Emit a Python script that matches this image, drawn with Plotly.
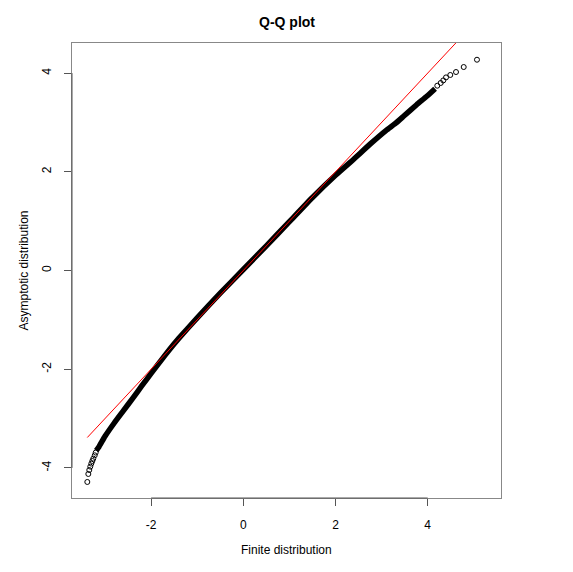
import plotly.graph_objects as go

# Sparse lower-tail points (Finite, Asymptotic)
tail_lo_x = [-3.384, -3.362, -3.341, -3.319, -3.297, -3.275, -3.254, -3.223, -3.202]
tail_lo_y = [-4.285, -4.123, -4.043, -3.974, -3.913, -3.860, -3.812, -3.745, -3.690]

# Dense central band of quantiles
band_x = [-3.19, -3.13, -3.00, -2.80, -2.60, -2.40, -2.20, -2.00, -1.80, -1.60,
          -1.40, -1.00, -0.50, 0.00, 0.50, 1.00, 1.50, 2.00, 2.40, 2.75,
          3.10, 3.30, 3.47, 3.76, 3.98, 4.16]
band_y = [-3.65, -3.57, -3.36, -3.09, -2.84, -2.59, -2.335, -2.085, -1.84, -1.60,
          -1.375, -0.96, -0.46, 0.02, 0.50, 0.99, 1.48, 1.93, 2.26, 2.56,
          2.84, 2.98, 3.12, 3.36, 3.53, 3.685]

# Sparse upper-tail points
tail_hi_x = [4.208, 4.282, 4.338, 4.397, 4.490, 4.614, 4.781, 5.069]
tail_hi_y = [3.745, 3.800, 3.852, 3.913, 3.962, 4.022, 4.123, 4.271]

x_ticks = [-2, 0, 2, 4]
y_ticks = [-4, -2, 0, 2, 4]
x_range = [-3.716, 5.59]
y_range = [-4.61, 4.61]

all_x = tail_lo_x + band_x + tail_hi_x
ref_line = [min(all_x), max(all_x)]

FONT = "Liberation Sans, Arial, Helvetica, sans-serif"

fig = go.Figure()
fig.add_trace(go.Scatter(x=band_x, y=band_y, mode="lines",
                         line=dict(color="black", width=5.5, shape="spline", smoothing=0.4),
                         hoverinfo="skip", showlegend=False))
fig.add_trace(go.Scatter(x=tail_lo_x + tail_hi_x, y=tail_lo_y + tail_hi_y, mode="markers",
                         marker=dict(symbol="circle-open", size=5, color="black",
                                     line=dict(width=1, color="black")),
                         showlegend=False, cliponaxis=False))
fig.add_trace(go.Scatter(x=ref_line, y=ref_line, mode="lines",
                         line=dict(color="red", width=1), showlegend=False))

axis_common = dict(showgrid=False, zeroline=False, showline=True, mirror=True,
                   linecolor="#888888", linewidth=1, ticks="outside", ticklen=7,
                   tickcolor="#555555", tickwidth=1,
                   tickfont=dict(family=FONT, size=12, color="black"))

fig.update_layout(
    width=573, height=572,
    margin=dict(l=64, r=80, t=35, b=82),
    paper_bgcolor="white", plot_bgcolor="white",
    xaxis=dict(range=x_range, tickvals=x_ticks, ticktext=[str(v) for v in x_ticks],
               ticklabelstandoff=9, **axis_common),
    yaxis=dict(range=y_range, tickvals=y_ticks, ticktext=[str(v) for v in y_ticks],
               tickangle=-90, ticklabelstandoff=8, **axis_common),
    shapes=[
        dict(type="line", xref="x", yref="paper", x0=x_ticks[0], x1=x_ticks[-1], y0=0, y1=0,
             line=dict(color="#555555", width=1)),
        dict(type="line", xref="paper", yref="y", x0=0, x1=0, y0=y_ticks[0], y1=y_ticks[-1],
             line=dict(color="#555555", width=1)),
    ],
    annotations=[
        dict(text="<b>Q-Q plot</b>", xref="paper", yref="paper", x=0.5, y=1,
             yanchor="middle", yshift=21, showarrow=False,
             font=dict(family=FONT, size=14, color="black")),
        dict(text="Finite distribution", xref="paper", yref="paper", x=0.5, y=0,
             yanchor="middle", yshift=-52, showarrow=False,
             font=dict(family=FONT, size=12, color="black")),
        dict(text="Asymptotic distribution", xref="paper", yref="paper", x=0, y=0.5,
             xanchor="center", xshift=-49, textangle=-90, showarrow=False,
             font=dict(family=FONT, size=12, color="black")),
    ],
)

fig.write_html("out.html")
